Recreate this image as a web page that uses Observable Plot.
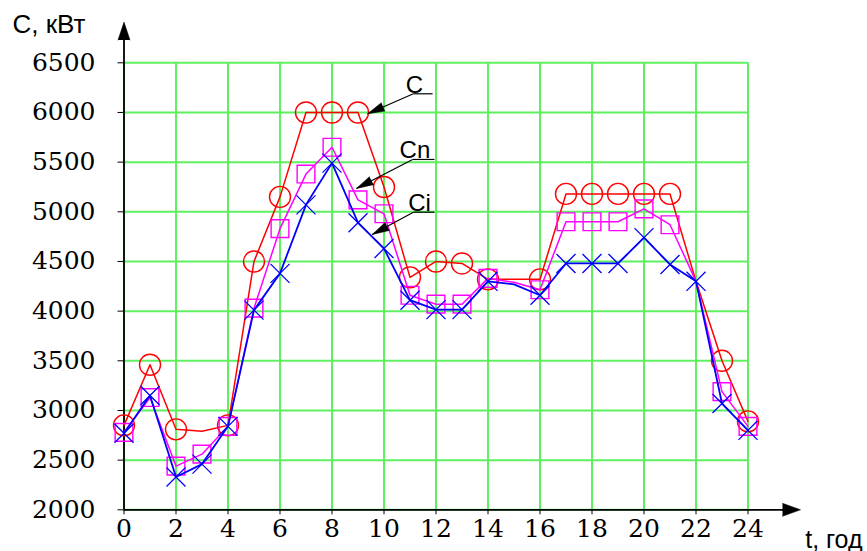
<!DOCTYPE html>
<html><head><meta charset="utf-8">
<script src="https://cdn.jsdelivr.net/npm/d3@7"></script>
<script src="https://cdn.jsdelivr.net/npm/@observablehq/plot@0.6"></script>
<style>html,body{margin:0;padding:0;background:#fff} svg{display:block}</style>
</head><body><div id="chart"></div>
<script>
// ---- data ----
const hours = [0,1,2,3,4,5,6,7,8,9,10,11,12,13,14,15,16,17,18,19,20,21,22,23,24];
const seriesC  = [2850,3460,2810,2790,2850,4500,5150,6000,6000,6000,5250,4340,4500,4480,4320,4320,4320,5180,5180,5180,5180,5180,4300,3500,2890];
const seriesCn = [2780,3130,2440,2560,2840,4030,4830,5380,5650,5120,4980,4160,4070,4070,4330,4290,4215,4900,4900,4900,5030,4870,4300,3190,2840];
const seriesCi = [2770,3150,2330,2460,2840,4010,4380,5070,5490,4890,4630,4110,4015,4015,4300,4270,4160,4480,4480,4480,4740,4470,4300,3070,2800];
const noMarkerC  = [3, 15, 22];
const noMarkerCn = [15, 22];
const noMarkerCi = [15];
const xTicks = [0,2,4,6,8,10,12,14,16,18,20,22,24];
const yTicks = [2000,2500,3000,3500,4000,4500,5000,5500,6000,6500];

// annotation labels (data coordinates)
const labelNames = ["C", "Cn", "Ci"];
const labelX = [11.17, 11.19, 11.37];
const labelY = [6200, 5540, 5005];
const underX1 = [11.13, 11.10, 11.13];
const underX2 = [11.87, 11.94, 11.94];
const underY = [6188, 5527, 4996];
const tipX = [9.37, 8.94, 9.55];
const tipY = [5987, 5235, 4772];
const tipAngle = [246, 242.6, 241.8];
const axisTitleY = "C, кВт";
const axisTitleX = "t, год";

// ---- tidy tables ----
const mk = (vals) => hours.map((h, i) => ({h, v: vals[i]}));
const dC = mk(seriesC), dCn = mk(seriesCn), dCi = mk(seriesCi);
const ann = labelNames.map((n, i) => ({n, lx: labelX[i], ly: labelY[i], ux1: underX1[i], ux2: underX2[i], uy: underY[i], tx: tipX[i], ty: tipY[i], a: tipAngle[i]}));

const green = "#5ef05e";
const serif = "'DejaVu Serif', 'Liberation Serif', 'Times New Roman', serif";
const sans = "Liberation Sans";

const plot = Plot.plot({
  width: 867,
  height: 551,
  marginLeft: 123.5,
  marginRight: 119.5,
  marginTop: 62.3,
  marginBottom: 41.7,
  x: {domain: [0, 24]},
  y: {domain: [2000, 6500]},
  style: {background: "#fff", overflow: "visible", color: "#000"},
  marks: [
    Plot.gridX(xTicks, {stroke: green, strokeOpacity: 1, strokeWidth: 2}),
    Plot.gridY(yTicks, {stroke: green, strokeOpacity: 1, strokeWidth: 2}),
    // axes lines with arrows
    Plot.ruleX([0], {y1: 2000, y2: 6800, stroke: "#000", strokeWidth: 1.8}),
    Plot.ruleY([2000], {x1: 0, x2: 25.5, stroke: "#000", strokeWidth: 1.8}),
    Plot.vector([{x: 0, y: 6910}], {x: "x", y: "y", rotate: 0, length: 18, r: 6, shape: "spike", anchor: "end", fill: "#000", stroke: "#000", strokeWidth: 0.5}),
    Plot.vector([{x: 26.02, y: 2000}], {x: "x", y: "y", rotate: 90, length: 18, r: 6.5, shape: "spike", anchor: "end", fill: "#000", stroke: "#000", strokeWidth: 0.5}),
    Plot.axisY({ticks: yTicks, tickSize: 6, label: null, tickFormat: () => ""}),
    Plot.axisX({ticks: xTicks, tickSize: 5, label: null, tickFormat: () => ""}),
    Plot.text(yTicks, {y: d => d, frameAnchor: "left", dx: -28.5, textAnchor: "end", text: d => String(d), fontSize: 25, fontFamily: serif, fill: "#000"}),
    Plot.text(xTicks, {x: d => d, frameAnchor: "bottom", dy: 9, lineAnchor: "top", text: d => String(d), fontSize: 25, fontFamily: serif, fill: "#000"}),
    // series C (red)
    Plot.line(dC, {x: "h", y: "v", stroke: "#ff0000", strokeWidth: 1.5}),
    Plot.dot(dC.filter(d => !noMarkerC.includes(d.h)), {x: "h", y: "v", r: 10.5, stroke: "#ff0000", strokeWidth: 1.4, fill: "none"}),
    // series Cn (magenta)
    Plot.line(dCn, {x: "h", y: "v", stroke: "#ff00ff", strokeWidth: 1.5}),
    Plot.dot(dCn.filter(d => !noMarkerCn.includes(d.h)), {x: "h", y: "v", r: 10, symbol: "square", stroke: "#ff00ff", strokeWidth: 1.4, fill: "none"}),
    // series Ci (blue)
    Plot.line(dCi, {x: "h", y: "v", stroke: "#0000ff", strokeWidth: 1.8}),
    Plot.dot(dCi.filter(d => !noMarkerCi.includes(d.h)), {x: "h", y: "v", r: 8.7, symbol: "times", stroke: "#0000ff", strokeWidth: 1.3}),
    // annotations
    Plot.link(ann, {x1: "ux1", x2: "ux2", y1: "uy", y2: "uy", stroke: "#000", strokeWidth: 1.2}),
    Plot.link(ann, {x1: "ux1", y1: "uy", x2: "tx", y2: "ty", stroke: "#000", strokeWidth: 1.2}),
    Plot.vector(ann, {x: "tx", y: "ty", rotate: "a", length: 17, r: 4.5, shape: "spike", anchor: "end", fill: "#000", stroke: "#000", strokeWidth: 0.5}),
    Plot.text(ann, {x: "lx", y: "ly", text: "n", fontSize: 24, fontFamily: sans, textAnchor: "middle", lineAnchor: "bottom", fill: "#000"}),
    Plot.text([axisTitleY], {x: -4.29, y: 6795, text: d => d, fontSize: 26, fontFamily: sans, textAnchor: "start", lineAnchor: "bottom", fill: "#000"}),
    Plot.text([axisTitleX], {x: 26.2, y: 1620, text: d => d, fontSize: 25, fontFamily: sans, textAnchor: "start", lineAnchor: "bottom", fill: "#000"})
  ]
});
document.getElementById("chart").appendChild(plot);
</script>
</body></html>
